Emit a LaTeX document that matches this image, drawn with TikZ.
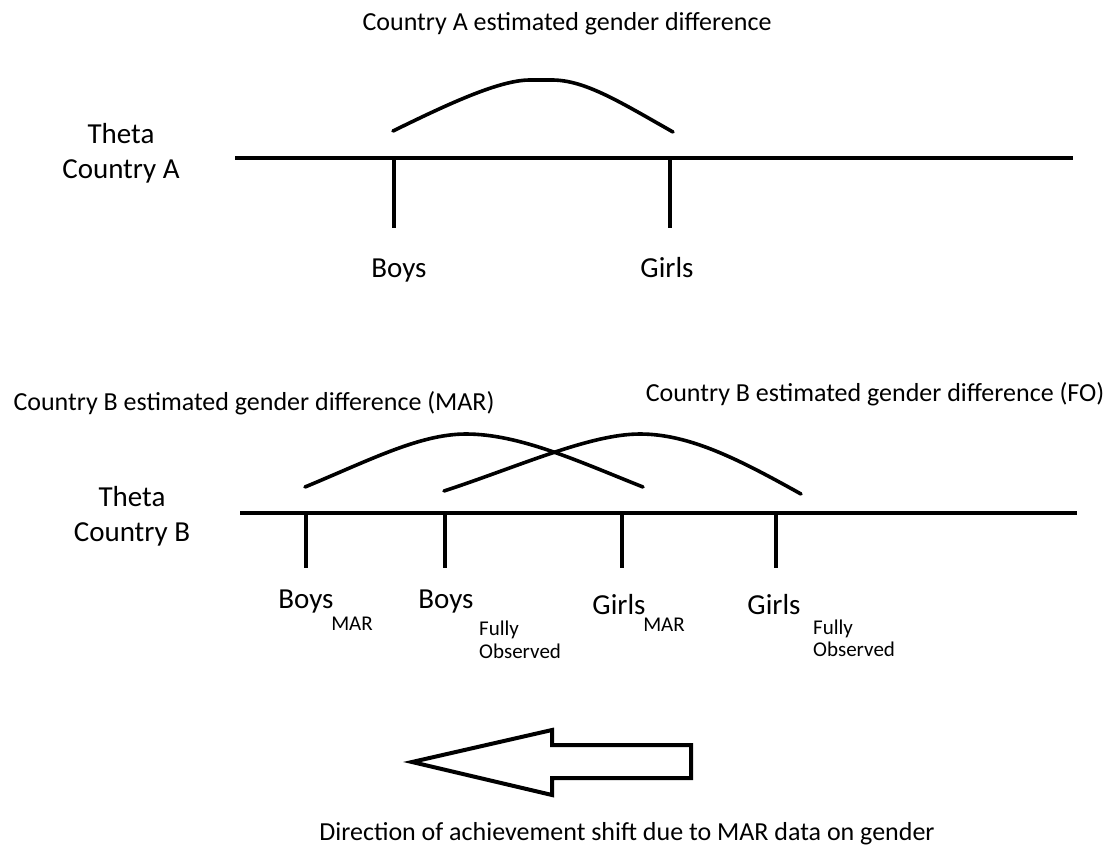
\documentclass[tikz,border=0pt]{standalone}
\usepackage{fontspec}
\setmainfont{Carlito}
\begin{document}
\begin{tikzpicture}[x=1pt,y=-1pt,
  axisline/.style={line width=4pt},
  tickline/.style={line width=4pt},
  arcline/.style={line width=3.6pt, line cap=round},
  ttl/.style={font=\fontsize{26}{30}\selectfont, inner sep=0pt},
  lbl/.style={font=\fontsize{29}{35}\selectfont, inner sep=0pt, anchor=base},
  sub/.style={font=\fontsize{21}{23}\selectfont, inner sep=0pt, anchor=base west}]
\useasboundingbox (0,0) rectangle (1116,846);
% Country A
\node[ttl, anchor=base] (ta) at (567,30) {Country A estimated gender difference};
\node[font=\fontsize{29}{35}\selectfont, inner sep=0pt, align=center] (tha) at (121,153) {Theta\\Country A};
\coordinate (la0) at (235,158);
\coordinate (la1) at (1073,158);
\draw[axisline] (la0) -- (la1);
\coordinate (ba) at (394,158);
\coordinate (ga) at (670,158);
\draw[tickline] (ba) -- ++(0,70);
\draw[tickline] (ga) -- ++(0,70);
\draw[arcline] (393,131) .. controls (450,103) and (500,80) .. (530,80)
  -- (552,80) .. controls (585,80) and (620,102) .. (673,132);
\node[lbl] (boysa) at (399,277) {Boys};
\node[lbl] (girlsa) at (667,277) {Girls};
% Country B
\node[ttl, anchor=base] (tbm) at (254,410) {Country B estimated gender difference (MAR)};
\node[ttl, anchor=base] (tbf) at (875,401) {Country B estimated gender difference (FO)};
\node[font=\fontsize{29}{35}\selectfont, inner sep=0pt, align=center] (thb) at (132,516) {Theta\\Country B};
\coordinate (lb0) at (240,513);
\coordinate (lb1) at (1077,513);
\draw[axisline] (lb0) -- (lb1);
\coordinate (b1) at (306,513);
\coordinate (b2) at (445,513);
\coordinate (b3) at (622,513);
\coordinate (b4) at (776,513);
\foreach \c in {b1,b2,b3,b4} \draw[tickline] (\c) -- ++(0,55);
\draw[arcline] (305,487) .. controls (370,460) and (420,434) .. (466,434)
  .. controls (520,434) and (580,462) .. (643,487);
\draw[arcline] (444,491) .. controls (520,466) and (590,434) .. (640,434)
  .. controls (690,434) and (740,460) .. (801,494);
\node[lbl] (boysm) at (306,608) {Boys};
\node[sub, anchor=base] (subm1) at (352,630) {MAR};
\node[lbl] (boysf) at (446,608) {Boys};
\node[sub] (subf1a) at (479,635) {Fully};
\node[sub] (subf1b) at (479,658) {Observed};
\node[lbl] (girlsm) at (619,614) {Girls};
\node[sub, anchor=base] (subm2) at (664,631) {MAR};
\node[lbl] (girlsf) at (774,614) {Girls};
\node[sub] (subf2a) at (813,634) {Fully};
\node[sub] (subf2b) at (813,656) {Observed};
% Arrow
\draw[line width=4pt, line join=miter] (412,762) -- (552,730) -- (552,745) -- (691,745)
  -- (691,778) -- (552,778) -- (552,795) -- cycle;
\node[ttl, anchor=base] (dir) at (627,840) {Direction of achievement shift due to MAR data on gender};
\end{tikzpicture}
\end{document}
